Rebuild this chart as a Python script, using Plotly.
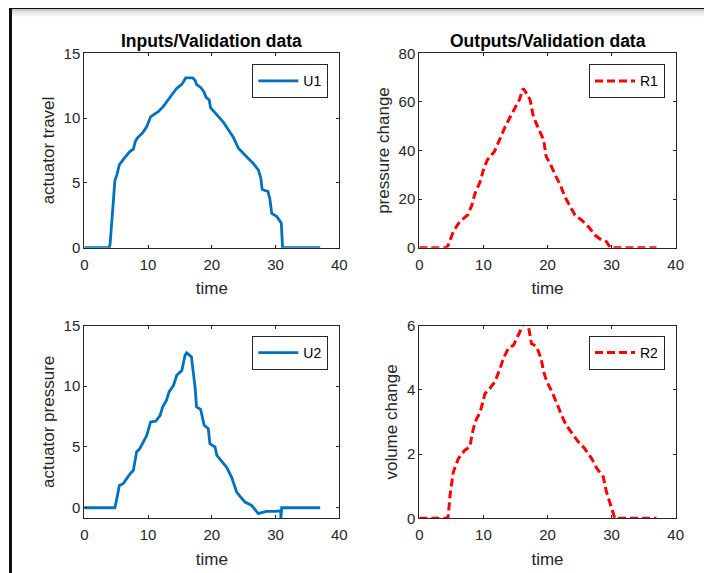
import plotly.graph_objects as go

W, H = 712, 573
OFF = 8  # page body margin of the rendered html

# ---------------- data ----------------
t_u1 = [0, 3.9, 4.05, 4.2, 4.55, 4.8, 5.1, 5.5, 6.1, 6.6, 7.1, 7.7, 8.0, 8.3, 9.2, 9.8,
        10.4, 11.0, 11.6, 12.4, 13.2, 13.8, 14.5, 15.3, 15.9, 16.3, 17.0, 17.4, 17.6,
        18.3, 18.8, 19.1, 19.6, 19.8, 20.8, 21.8, 22.6, 23.4, 24.2, 25.5, 26.5, 27.3,
        27.7, 27.9, 28.1, 28.8, 29.1, 29.4, 30.2, 30.9, 31.0, 31.1, 37]
u1 = [0, 0, 0.3, 1.4, 4.0, 5.2, 5.6, 6.4, 6.8, 7.15, 7.4, 7.6, 8.2, 8.45, 8.9, 9.35,
      10.1, 10.3, 10.5, 10.9, 11.4, 11.8, 12.3, 12.6, 13.1, 13.1, 13.1, 12.9, 12.6,
      12.35, 12.0, 11.6, 11.4, 10.8, 10.25, 9.7, 9.1, 8.5, 7.65, 7.0, 6.5, 6.0,
      5.35, 4.5, 4.45, 4.35, 3.8, 2.65, 2.4, 1.9, 0.1, 0, 0]

t_r1 = [0, 4.2, 4.5, 5.3, 6.3, 7.6, 8.2, 8.7, 9.5, 10.0, 10.6, 11.7, 12.5, 13.4, 14.2,
        14.9, 15.6, 16.2, 16.6, 17.3, 17.8, 18.7, 19.4, 19.8, 20.4, 21.2, 22.0, 22.7,
        23.5, 24.3, 25.3, 26.4, 27.4, 28.4, 29.2, 29.8, 37]
r1 = [0, 0, 1, 6.6, 10.7, 13.6, 17.6, 22.4, 27.2, 32.0, 36.1, 39.5, 44.3, 49.8, 53.9,
      57.3, 60.8, 65.5, 64.0, 60.8, 53.9, 48.4, 44.3, 37.4, 34.7, 29.9, 25.8, 21.0,
      16.9, 13.4, 11.4, 8.6, 5.2, 3.2, 2.5, 0, 0]

t_u2 = [0, 4.8, 5.1, 5.5, 6.1, 6.6, 7.2, 7.7, 7.95, 8.2, 8.7, 9.25, 9.8, 10.1, 10.4,
        11.2, 11.9, 12.3, 12.9, 13.3, 14.0, 14.5, 15.3, 15.8, 16.05, 16.8, 17.4, 17.6,
        18.25, 18.8, 19.45, 19.7, 20.5, 20.8, 21.5, 22.3, 23.1, 23.9, 24.4, 25.2,
        26.25, 27.3, 27.8, 28.6, 29.9, 30.8, 30.85, 30.95, 37]
u2 = [0, 0, 0.74, 1.84, 1.98, 2.39, 2.8, 3.08, 3.76, 4.59, 4.86, 5.41, 5.96, 6.51, 7.06,
      7.12, 7.61, 8.3, 8.85, 9.53, 10.08, 10.9, 11.3, 12.55, 12.75, 12.42, 9.8, 8.3,
      8.1, 6.79, 6.51, 5.27, 5.0, 4.31, 3.9, 3.35, 2.53, 1.29, 0.96, 0.47,
      0.19, -0.49, -0.41, -0.3, -0.3, -0.25, -0.9, 0, 0]

t_r2 = [0, 4.3, 4.5, 4.8, 5.3, 6.1, 7.1, 7.9, 8.2, 8.7, 9.5, 10.25, 11.0, 11.8, 12.6,
        13.1, 13.9, 14.7, 15.2, 15.9, 16.4, 17.0, 17.5, 18.3, 19.0, 19.4, 19.9, 20.7,
        21.4, 22.2, 22.9, 23.8, 24.8, 25.8, 26.9, 27.7, 28.7, 29.2, 30.0, 30.5, 37]
r2 = [0, 0, 0.05, 0.72, 1.44, 1.86, 2.12, 2.22, 2.59, 3.0, 3.31, 3.88, 4.04, 4.25, 4.66,
      4.97, 5.29, 5.39, 5.6, 5.9, 6.1, 6.0, 5.44, 5.34, 4.97, 4.56, 4.25, 3.94,
      3.57, 3.21, 2.9, 2.64, 2.38, 2.17, 1.86, 1.55, 1.29, 0.82, 0.3, 0, 0]

titles = ["Inputs/Validation data", "Outputs/Validation data"]
y_labels = ["actuator travel", "pressure change", "actuator pressure", "volume change"]
x_label = "time"
x_ticks = [0, 10, 20, 30, 40]
y_ticks = [[0, 5, 10, 15], [0, 20, 40, 60, 80], [0, 5, 10, 15], [0, 2, 4, 6]]
y_ranges = [[0, 15], [0, 80], [-0.87, 15], [0, 6]]

# ---------------- styling ----------------
FONT = "Liberation Sans, Arial, Helvetica, sans-serif"
AX = "#262626"
BLUE = "#0072BD"
RED = "#FF0000"

def fx(p):
    return (p - OFF) / W

def fy(p):
    return 1 - (p - OFF) / H

# pixel boxes of each axes in the screenshot: (left, right, top, bottom)
boxes = [(84.3, 339.3, 53.3, 247.7), (419.3, 675.7, 53.3, 247.7),
         (84.3, 339.3, 325.5, 518.3), (419.3, 675.7, 325.5, 518.3)]

fig = go.Figure()
series = [(t_u1, u1, "U1", BLUE, "solid"), (t_r1, r1, "R1", RED, "8px,4px"),
          (t_u2, u2, "U2", BLUE, "solid"), (t_r2, r2, "R2", RED, "8px,4px")]

for i, (tx, ty, name, col, dash) in enumerate(series):
    k = "" if i == 0 else str(i + 1)
    fig.add_trace(go.Scatter(
        x=tx, y=ty, mode="lines", name=name, showlegend=True,
        line=dict(color=col, width=2.8 if dash == "solid" else 3.0, dash=dash),
        xaxis="x" + k, yaxis="y" + k, legend="legend" + k))

layout = dict(
    width=W, height=H, autosize=False, template="none", showlegend=True,
    margin=dict(l=0, r=0, t=0, b=0),
    paper_bgcolor="white", plot_bgcolor="white",
    font=dict(family=FONT, color=AX, size=15),
)

legend_pos = [(328.3, 64.3), (665.0, 64.3), (328.3, 336.0), (665.0, 336.0)]

for i, (l, r, t, b) in enumerate(boxes):
    k = "" if i == 0 else str(i + 1)
    common = dict(showline=True, linecolor=AX, linewidth=1, mirror="ticks",
                  ticks="inside", ticklen=3, tickwidth=1, tickcolor=AX,
                  showgrid=False, zeroline=False, automargin=False,
                  tickfont=dict(family=FONT, size=15, color=AX))
    layout["xaxis" + k] = dict(
        domain=[fx(l), fx(r)], anchor="y" + k, range=[0, 40],
        tickvals=x_ticks, ticktext=[str(v) for v in x_ticks], ticklabelstandoff=3,
        title=dict(text=x_label, font=dict(family=FONT, size=17, color=AX), standoff=10),
        **common)
    layout["yaxis" + k] = dict(
        domain=[fy(b), fy(t)], anchor="x" + k, range=y_ranges[i],
        tickvals=y_ticks[i], ticktext=[str(v) for v in y_ticks[i]],
        title=dict(text=y_labels[i], font=dict(family=FONT, size=17, color=AX), standoff=4),
        **common)
    lx, ly = legend_pos[i]
    layout["legend" + k] = dict(
        x=fx(lx), y=fy(ly), xanchor="right", yanchor="top",
        bgcolor="white", bordercolor=AX, borderwidth=1,
        font=dict(family=FONT, size=14, color="#000000"),
        itemwidth=40, tracegroupgap=0, visible=True)

fig.update_layout(**layout)

# subplot titles
for cx, txt in [((84.3 + 339.3) / 2, titles[0]), ((419.3 + 675.7) / 2, titles[1])]:
    fig.add_annotation(x=fx(cx), y=fy(41), xref="paper", yref="paper",
                       text="<b>" + txt + "</b>", showarrow=False,
                       font=dict(family=FONT, size=17.5, color="#000000"),
                       xanchor="center", yanchor="middle")

# window frame (black edge with soft shadow)
shapes = []
greys = ["#c4c4c4", "#d2d2d2", "#dcdcdc", "#e4e4e4", "#ebebeb", "#f1f1f1", "#f6f6f6", "#fafafa"]
for j, g in enumerate(greys):
    shapes.append(dict(type="rect", xref="paper", yref="paper", layer="below",
                       x0=fx(12), x1=1, y0=fy(10 + j), y1=fy(9 + j),
                       fillcolor=g, line=dict(width=0)))
shapes.append(dict(type="rect", xref="paper", yref="paper", layer="below",
                   x0=fx(9), x1=1, y0=fy(9), y1=fy(6),
                   fillcolor="#111111", line=dict(width=0)))
shapes.append(dict(type="rect", xref="paper", yref="paper", layer="below",
                   x0=fx(9), x1=fx(12), y0=0, y1=fy(6),
                   fillcolor="#111111", line=dict(width=0)))
fig.update_layout(shapes=shapes)

fig.write_html("out.html")
